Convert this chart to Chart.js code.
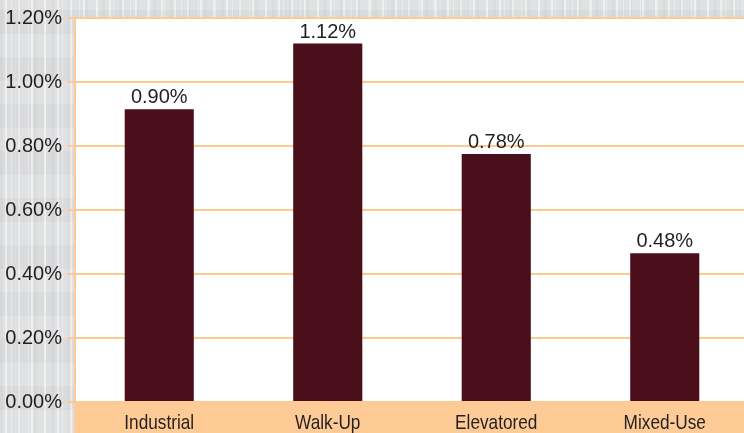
<!DOCTYPE html>
<html>
<head>
<meta charset="utf-8">
<script src="https://cdn.jsdelivr.net/npm/chart.js@4"></script>
<style>
  html, body { margin: 0; padding: 0; width: 744px; height: 433px; overflow: hidden; }
  body {
    background:
      repeating-linear-gradient(90deg, rgba(255,255,255,0) 0 5px, rgba(255,255,255,0.45) 5px 7px, rgba(255,255,255,0) 7px 13px),
      repeating-linear-gradient(90deg, rgba(0,0,0,0.025) 0 3px, rgba(0,0,0,0) 3px 11px, rgba(255,255,255,0.3) 11px 12px, rgba(0,0,0,0) 12px 17px),
      repeating-linear-gradient(0deg, rgba(255,255,255,0.08) 0 23px, rgba(0,0,0,0.01) 23px 47px),
      #dddedf;
  }
  #wrap { position: absolute; left: 0; top: 0; width: 750px; height: 433px; }
</style>
</head>
<body>
<div id="wrap"><canvas id="c" width="750" height="433"></canvas></div>
<script>
// ---- data ----
const categories = ["Industrial", "Walk-Up", "Elevatored", "Mixed-Use"];
const barValues = [0.915, 1.12, 0.775, 0.465];          // bar heights as drawn (percent)
const valueLabels = ["0.90%", "1.12%", "0.78%", "0.48%"]; // printed data labels
const yTickValues = [0, 0.2, 0.4, 0.6, 0.8, 1.0, 1.2];
const yTickLabels = ["0.00%", "0.20%", "0.40%", "0.60%", "0.80%", "1.00%", "1.20%"];

const textColor = '#231f20';
const orange = '#fdca94';
const peach = '#fecb96';

const bgPlugin = {
  id: 'bg',
  beforeDraw(chart) {
    const { ctx, chartArea: a } = chart;
    ctx.save();
    ctx.fillStyle = '#ffffff';
    ctx.fillRect(a.left, a.top, a.right - a.left + 10, a.bottom - a.top);
    ctx.fillStyle = peach;
    ctx.fillRect(a.left - 1, a.bottom, a.right - a.left + 10, chart.height - a.bottom);
    ctx.restore();
  }
};

const labelPlugin = {
  id: 'vlabels',
  afterDatasetsDraw(chart) {
    const { ctx, chartArea: a } = chart;
    const meta = chart.getDatasetMeta(0);
    ctx.save();
    ctx.font = '20px "Liberation Sans", Arial';
    ctx.fillStyle = textColor;
    ctx.textAlign = 'center';
    ctx.textBaseline = 'alphabetic';
    meta.data.forEach((bar, i) => {
      ctx.fillText(valueLabels[i], bar.x, bar.y - 6);
    });
    // condensed category labels drawn through the x scale positions
    const xs = chart.scales.x;
    ctx.font = '21px "Liberation Sans", Arial';
    categories.forEach((c, i) => {
      const x = xs.getPixelForTick(i);
      ctx.save();
      ctx.translate(x, a.bottom + 27);
      ctx.scale(0.82, 1);
      ctx.fillText(c, 0, 0);
      ctx.restore();
    });
    ctx.restore();
  }
};

new Chart(document.getElementById('c'), {
  type: 'bar',
  data: {
    labels: categories,
    datasets: [{
      data: barValues,
      backgroundColor: '#4a0f1b',
      borderWidth: 0,
      categoryPercentage: 1,
      barPercentage: 0.41
    }]
  },
  options: {
    responsive: false,
    animation: false,
    devicePixelRatio: 1,
    layout: { padding: { top: 18, right: 1, left: 0, bottom: 0 } },
    plugins: { legend: { display: false }, tooltip: { enabled: false } },
    scales: {
      x: {
        grid: { display: false, drawTicks: false },
        border: { display: false },
        ticks: { display: false },
        afterFit(s) { s.height = 31; }
      },
      y: {
        min: 0, max: 1.2,
        afterBuildTicks(s) { s.ticks = yTickValues.map(v => ({ value: v })); },
        ticks: {
          color: textColor,
          font: { family: '"Liberation Sans", Arial', size: 20 },
          padding: 5,
          callback(v, i) { return yTickLabels[i]; }
        },
        grid: { color: orange, lineWidth: 2, tickLength: 8, drawTicks: true },
        border: { display: true, color: orange, width: 2 },
        afterFit(s) { s.width = 75; }
      }
    }
  },
  plugins: [bgPlugin, labelPlugin]
});
</script>
</body>
</html>
